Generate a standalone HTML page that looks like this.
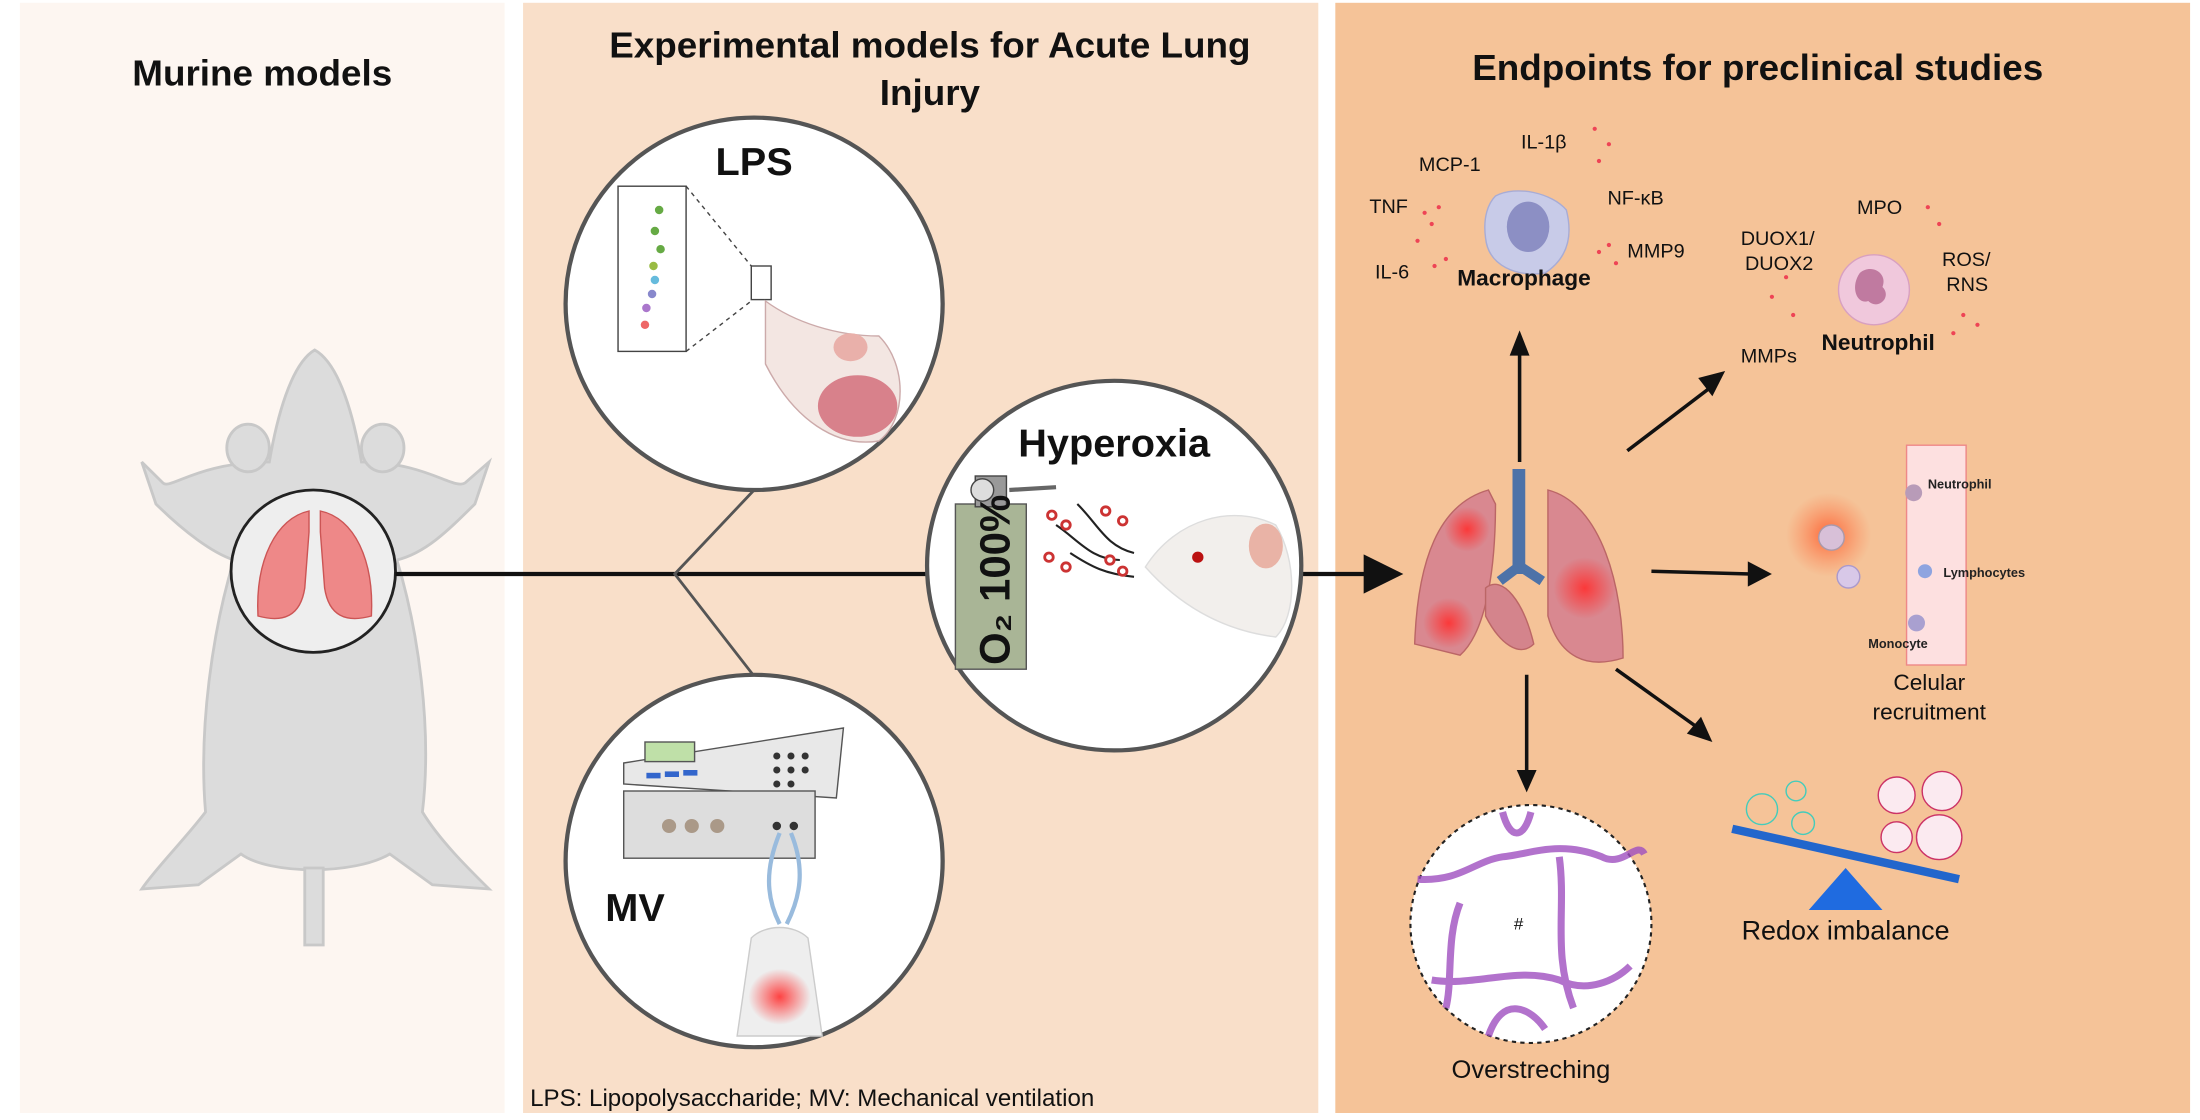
<!DOCTYPE html>
<html><head><meta charset="utf-8"><style>html,body{margin:0;padding:0;background:#fff}svg{display:block}text{font-family:"Liberation Sans",sans-serif}</style></head><body>
<svg width="2200" height="1120" viewBox="0 0 1552 800" preserveAspectRatio="none" xmlns="http://www.w3.org/2000/svg">
<defs>
<radialGradient id="red"><stop offset="0" stop-color="#ff3030" stop-opacity=".9"/><stop offset="1" stop-color="#ff3030" stop-opacity="0"/></radialGradient>
<radialGradient id="glow"><stop offset="0" stop-color="#ff5020" stop-opacity=".8"/><stop offset="1" stop-color="#ff7040" stop-opacity="0"/></radialGradient>
</defs>
<rect width="1552" height="800" fill="#fff"/>
<rect x="14" y="2" width="342" height="793" fill="#fdf6f1"/>
<rect x="369" y="2" width="561" height="793" fill="#f9dfc9"/>
<rect x="942" y="2" width="603" height="793" fill="#f5c398"/>
<g font-weight="bold" font-size="26" text-anchor="middle" fill="#111">
<text x="185" y="61">Murine models</text>
<text x="656" y="41">Experimental models for Acute Lung</text>
<text x="656" y="75">Injury</text>
<text x="1240" y="57">Endpoints for preclinical studies</text>
</g>
<!-- mouse -->
<g fill="#dcdcdc" stroke="#c8c8c8" stroke-width="2">
<path d="M222 250 C205 260 195 300 190 330 C140 330 120 350 115 345 L100 330 L110 360 C130 380 150 395 165 400 C150 450 140 520 145 580 C130 600 110 620 100 635 L140 632 L170 610 C190 625 250 625 275 610 L305 632 L345 635 C330 620 310 600 298 580 C305 520 295 450 280 400 C300 395 315 380 335 360 L345 330 L328 345 C320 350 300 330 255 330 C250 300 240 260 222 250Z"/>
<path d="M215 620 L215 675 L228 675 L228 620Z"/>
<ellipse cx="175" cy="320" rx="15" ry="17"/><ellipse cx="270" cy="320" rx="15" ry="17"/>
</g>
<circle cx="221" cy="408" r="58" fill="#eee" stroke="#222" stroke-width="2"/>
<path d="M218 365 C195 370 180 400 182 440 C200 445 212 440 215 420 L218 380Z" fill="#e88" stroke="#c55"/>
<path d="M226 365 C250 370 264 400 262 440 C244 445 232 440 229 420 L226 380Z" fill="#e88" stroke="#c55"/>
<!-- connectors -->
<g stroke="#111" stroke-width="3" fill="none">
<line x1="279" y1="410" x2="654" y2="410"/>
</g>
<g stroke="#555" stroke-width="2" fill="none">
<path d="M532 350 L476 410 L532 483"/>
</g>
<line x1="918" y1="410" x2="965" y2="410" stroke="#111" stroke-width="3"/>
<polygon points="962,396 990,410 962,424" fill="#111"/>
<!-- circles -->
<circle cx="532" cy="217" r="133" fill="#fff" stroke="#555" stroke-width="3"/>
<circle cx="532" cy="615" r="133" fill="#fff" stroke="#555" stroke-width="3"/>
<circle cx="786" cy="404" r="132" fill="#fff" stroke="#555" stroke-width="3"/>
<g font-weight="bold" fill="#111">
<text x="532" y="125" font-size="28" text-anchor="middle">LPS</text>
<text x="786" y="326" font-size="28" text-anchor="middle">Hyperoxia</text>
<text x="448" y="658" font-size="28" text-anchor="middle">MV</text>
</g>
<!-- LPS content -->
<rect x="436" y="133" width="48" height="118" fill="#fff" stroke="#444"/>
<g fill="#6a4"><circle cx="465" cy="150" r="3"/><circle cx="462" cy="165" r="3"/><circle cx="466" cy="178" r="3"/><circle cx="461" cy="190" r="3" fill="#9b4"/><circle cx="462" cy="200" r="3" fill="#6bd"/><circle cx="460" cy="210" r="3" fill="#88c"/><circle cx="456" cy="220" r="3" fill="#a7c"/><circle cx="455" cy="232" r="3" fill="#e66"/></g>
<path d="M484 133 L530 190 M484 251 L530 215" stroke="#444" stroke-dasharray="3 3"/>
<rect x="530" y="190" width="14" height="24" fill="none" stroke="#444"/>
<path d="M540 215 C560 230 590 240 620 240 C640 260 640 300 620 315 C590 320 560 300 540 260Z" fill="#f3e6e2" stroke="#caa"/>
<ellipse cx="605" cy="290" rx="28" ry="22" fill="#c56" opacity=".7"/>
<ellipse cx="600" cy="248" rx="12" ry="10" fill="#e9b0aa"/>
<!-- MV content -->
<polygon points="440,545 595,520 590,570 440,560" fill="#e8e8e8" stroke="#555"/>
<rect x="440" y="565" width="135" height="48" fill="#ddd" stroke="#555"/>
<rect x="455" y="530" width="35" height="14" fill="#bfe0a8" stroke="#555"/>
<g fill="#36c"><rect x="456" y="552" width="10" height="4"/><rect x="469" y="551" width="10" height="4"/><rect x="482" y="550" width="10" height="4"/></g>
<g fill="#333"><circle cx="548" cy="540" r="2.5"/><circle cx="558" cy="540" r="2.5"/><circle cx="568" cy="540" r="2.5"/><circle cx="548" cy="550" r="2.5"/><circle cx="558" cy="550" r="2.5"/><circle cx="568" cy="550" r="2.5"/><circle cx="548" cy="560" r="2.5"/><circle cx="558" cy="560" r="2.5"/><circle cx="472" cy="590" r="5" fill="#a98"/><circle cx="488" cy="590" r="5" fill="#a98"/><circle cx="506" cy="590" r="5" fill="#a98"/><circle cx="548" cy="590" r="3"/><circle cx="560" cy="590" r="3"/></g>
<path d="M550 595 C540 620 540 640 550 660 M558 595 C568 620 565 640 555 660" stroke="#9bd" stroke-width="3" fill="none"/>
<path d="M530 670 C540 660 560 660 570 670 L580 740 L520 740Z" fill="#eee" stroke="#ccc"/>
<ellipse cx="550" cy="712" rx="22" ry="20" fill="url(#red)"/>
<!-- Hyperoxia content -->
<rect x="674" y="360" width="50" height="118" fill="#a9b596" stroke="#555"/>
<rect x="688" y="340" width="22" height="22" fill="#999" stroke="#444"/>
<circle cx="693" cy="350" r="8" fill="#ddd" stroke="#444"/>
<path d="M712 350 L745 348" stroke="#666" stroke-width="3"/>
<text transform="translate(712,475) rotate(-90)" font-size="30" font-weight="bold" fill="#111">O₂ 100%</text>
<g fill="none" stroke="#222" stroke-width="1.5"><path d="M760 360 C775 375 780 390 800 395"/><path d="M745 375 C760 385 770 400 790 400"/><path d="M755 395 C770 405 780 410 800 412"/></g>
<g fill="#fff" stroke="#c33" stroke-width="2"><circle cx="742" cy="368" r="3"/><circle cx="752" cy="375" r="3"/><circle cx="780" cy="365" r="3"/><circle cx="792" cy="372" r="3"/><circle cx="740" cy="398" r="3"/><circle cx="752" cy="405" r="3"/><circle cx="783" cy="400" r="3"/><circle cx="792" cy="408" r="3"/></g>
<path d="M808 405 C830 370 870 360 900 375 C915 400 915 440 900 455 C860 450 830 430 808 405Z" fill="#f2efec" stroke="#ddd"/>
<ellipse cx="893" cy="390" rx="12" ry="16" fill="#e9b3a6"/>
<circle cx="845" cy="398" r="4" fill="#b11"/>
<!-- footnote -->
<text x="374" y="790" font-size="17" fill="#111">LPS: Lipopolysaccharide; MV: Mechanical ventilation</text>
<!-- lungs -->
<rect x="1067" y="335" width="9" height="75" fill="#4d72a8"/>
<path d="M1071 405 L1058 415 M1073 405 L1088 415" stroke="#4d72a8" stroke-width="7"/>
<path d="M1050 350 C1015 360 1000 400 998 460 L1030 468 C1050 450 1055 400 1055 360Z" fill="#d98890" stroke="#b66"/>
<path d="M1092 350 C1130 360 1145 420 1145 470 C1120 478 1100 470 1092 440Z" fill="#d98890" stroke="#b66"/>
<path d="M1048 420 C1060 410 1075 430 1082 460 C1072 470 1058 460 1048 440Z" fill="#d4848c" stroke="#b66"/>
<circle cx="1035" cy="378" r="16" fill="url(#red)"/><circle cx="1022" cy="445" r="18" fill="url(#red)"/><circle cx="1118" cy="420" r="22" fill="url(#red)"/>
<!-- arrows -->
<g stroke="#111" stroke-width="2.5"><line x1="1072" y1="330" x2="1072" y2="252"/><line x1="1148" y1="322" x2="1205" y2="278"/><line x1="1165" y1="408" x2="1235" y2="410"/><line x1="1140" y1="478" x2="1198" y2="520"/><line x1="1077" y1="482" x2="1077" y2="552"/></g>
<g fill="#111"><polygon points="1065,254 1072,236 1079,254"/><polygon points="1198,270 1217,265 1208,283"/><polygon points="1233,401 1250,410 1233,419"/><polygon points="1190,524 1208,530 1200,512"/><polygon points="1070,550 1077,566 1084,550"/></g>
<!-- macrophage -->
<path d="M1055 140 C1070 132 1095 138 1105 150 C1110 170 1105 185 1090 195 C1070 198 1050 190 1048 170 C1046 155 1050 145 1055 140Z" fill="#c8cbe8" stroke="#a8acd5"/>
<ellipse cx="1078" cy="162" rx="15" ry="18" fill="#8c8fc4"/>
<g font-size="14" fill="#111"><text x="1073" y="106">IL-1β</text><text x="1001" y="122">MCP-1</text><text x="966" y="152">TNF</text><text x="1134" y="146">NF-κB</text><text x="1148" y="184">MMP9</text><text x="970" y="199">IL-6</text>
<text x="1310" y="153">MPO</text><text x="1228" y="175">DUOX1/</text><text x="1231" y="193">DUOX2</text><text x="1370" y="190">ROS/</text><text x="1373" y="208">RNS</text><text x="1228" y="259">MMPs</text></g>
<g font-size="16" font-weight="bold" fill="#111"><text x="1028" y="204">Macrophage</text><text x="1285" y="250">Neutrophil</text></g>
<g fill="#e45"><circle cx="1125" cy="92" r="1.5"/><circle cx="1135" cy="103" r="1.5"/><circle cx="1128" cy="115" r="1.5"/><circle cx="1005" cy="152" r="1.5"/><circle cx="1015" cy="148" r="1.5"/><circle cx="1010" cy="160" r="1.5"/><circle cx="1000" cy="172" r="1.5"/><circle cx="1012" cy="190" r="1.5"/><circle cx="1020" cy="185" r="1.5"/><circle cx="1135" cy="175" r="1.5"/><circle cx="1140" cy="188" r="1.5"/><circle cx="1128" cy="180" r="1.5"/><circle cx="1360" cy="148" r="1.5"/><circle cx="1368" cy="160" r="1.5"/><circle cx="1260" cy="198" r="1.5"/><circle cx="1250" cy="212" r="1.5"/><circle cx="1265" cy="225" r="1.5"/><circle cx="1385" cy="225" r="1.5"/><circle cx="1395" cy="232" r="1.5"/><circle cx="1378" cy="238" r="1.5"/></g>
<!-- neutrophil -->
<circle cx="1322" cy="207" r="25" fill="#f0c8dc" stroke="#d8a0c0"/>
<path d="M1312 195 C1320 188 1332 195 1328 205 C1335 212 1325 222 1318 215 C1310 218 1305 205 1312 195Z" fill="#c07aa0"/>
<!-- vessel -->
<rect x="1345" y="318" width="42" height="157" fill="#fde0e0" stroke="#e88"/>
<circle cx="1290" cy="382" r="30" fill="url(#glow)"/>
<circle cx="1292" cy="384" r="9" fill="#d8c0d8" stroke="#a9a"/><circle cx="1304" cy="412" r="8" fill="#d8c8e8" stroke="#a9c"/>
<circle cx="1350" cy="352" r="6" fill="#b89bb8"/><circle cx="1358" cy="408" r="5" fill="#8ea4e0"/><circle cx="1352" cy="445" r="6" fill="#a9a0d0"/>
<g font-size="9" font-weight="bold" fill="#222"><text x="1360" y="349">Neutrophil</text><text x="1371" y="412">Lymphocytes</text><text x="1318" y="463">Monocyte</text></g>
<g font-size="16" fill="#111" text-anchor="middle"><text x="1361" y="493">Celular</text><text x="1361" y="514">recruitment</text><text x="1302" y="671" font-size="19">Redox imbalance</text><text x="1080" y="770" font-size="18">Overstreching</text></g>
<!-- redox -->
<line x1="1222" y1="592" x2="1382" y2="628" stroke="#2266cc" stroke-width="6"/>
<polygon points="1302,620 1276,650 1328,650" fill="#1f6be0"/>
<g fill="none" stroke="#4cb"><circle cx="1243" cy="578" r="11"/><circle cx="1267" cy="565" r="7"/><circle cx="1272" cy="588" r="8"/></g>
<g fill="#fbeaf0" stroke="#c36"><circle cx="1338" cy="568" r="13"/><circle cx="1370" cy="565" r="14"/><circle cx="1338" cy="598" r="11"/><circle cx="1368" cy="598" r="16"/></g>
<!-- histology -->
<circle cx="1080" cy="660" r="85" fill="#fff" stroke="#222" stroke-width="1.5" stroke-dasharray="3 3"/>
<g fill="none" stroke="#a050c0" stroke-width="5" opacity=".8"><path d="M1000 628 C1030 630 1040 615 1060 612 C1080 610 1100 600 1130 612 C1145 620 1155 600 1160 610"/><path d="M1030 645 C1020 670 1025 700 1020 720"/><path d="M1100 612 C1105 650 1095 680 1110 720"/><path d="M1010 700 C1040 705 1070 690 1100 700 C1120 710 1140 700 1150 690"/><path d="M1050 740 C1060 710 1080 720 1090 735"/><path d="M1060 580 C1065 600 1075 600 1080 580"/></g>
<text x="1068" y="664" font-size="12" fill="#111">#</text>
</svg>
</body></html>
